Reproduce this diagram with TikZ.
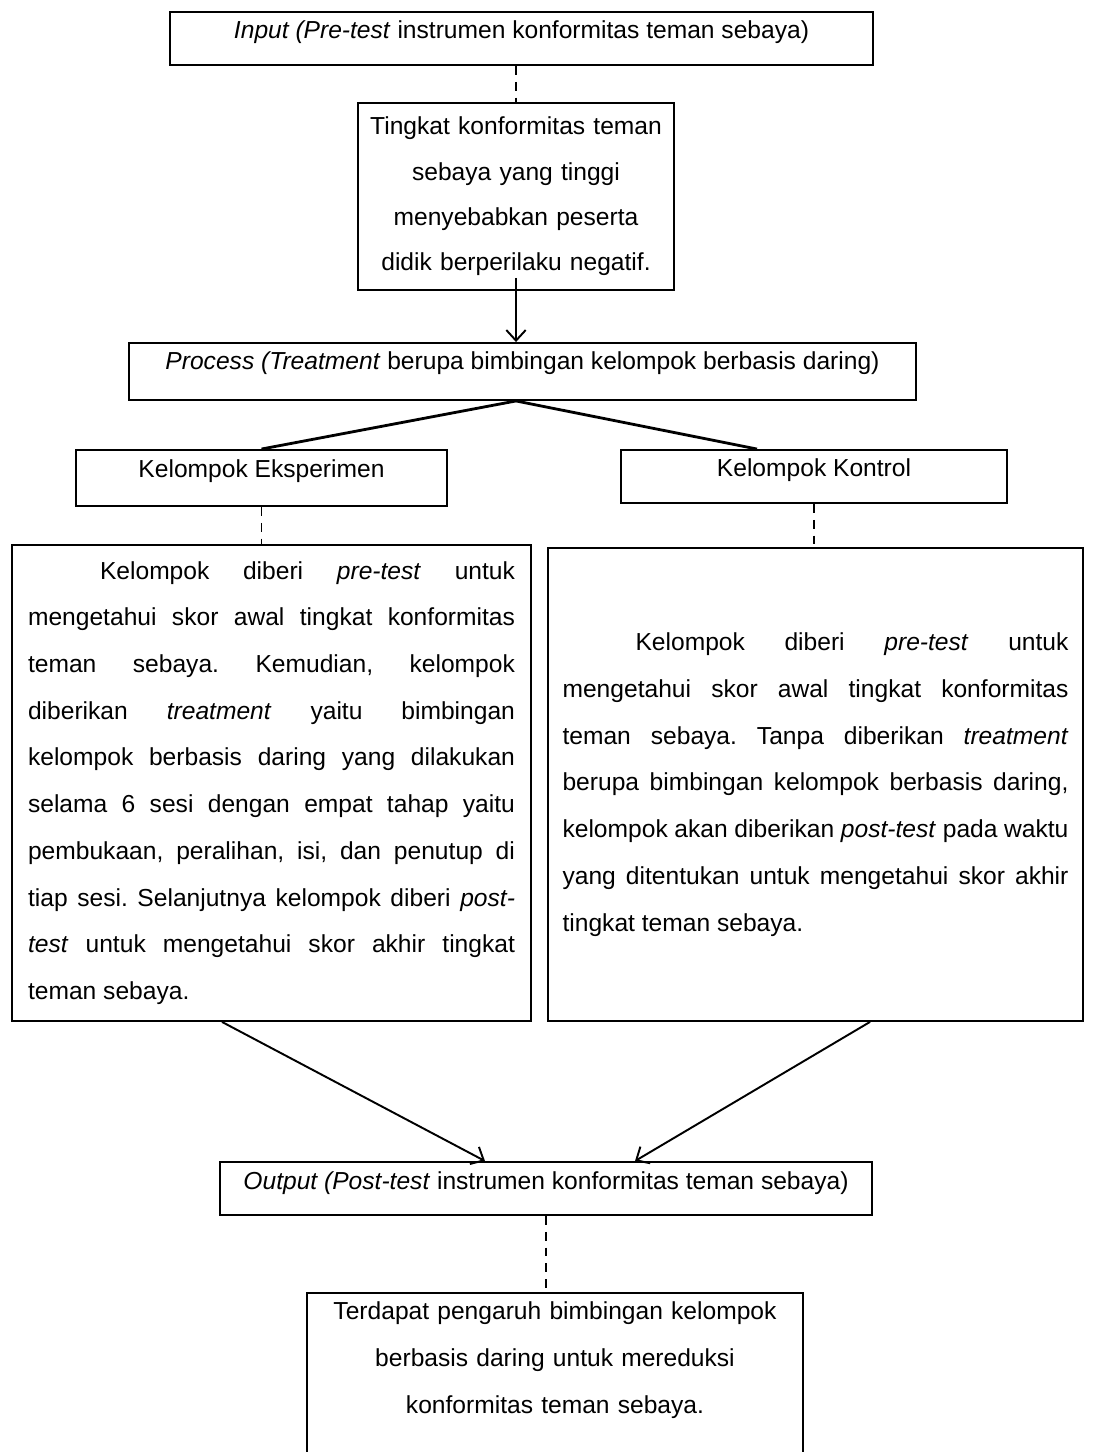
\documentclass[tikz,border=0pt]{standalone}
\usepackage{fontspec}
\setmainfont{Liberation Sans}
\frenchspacing
\usetikzlibrary{calc,arrows.meta}
\tikzset {>={Straight Barb[length=6pt,width=11pt]}}
\tikzset{
  kotak/.style={draw, line width=1.1pt, inner sep=0pt, font=\fontsize{14}{26.6}\selectfont},
  judul/.style={kotak, inner xsep=0.2cm, inner ysep=0.18cm, text height=0.36cm, text depth=0.34cm},
  isian/.style={kotak, align=center},
  putus/.style={line width=1pt, dash pattern=on 5pt off 4pt},
  panah/.style={->, line width=1.1pt},
  cabang/.style={line width=1.6pt}
}

\begin{document}
\begin{tikzpicture}[x=0.02cm,y=-0.02cm]
\useasboundingbox (0,0) rectangle (1092,1452);
%\draw[help lines,step=50] (0,0) grid (1092,1452);
\node[judul,minimum width=14.06cm] (input) at (521.5,38.5)
  {\textit{Input (Pre-test} instrumen konformitas teman sebaya)};
\node[isian,text width=5.9cm,minimum width=6.32cm,minimum height=3.74cm,
  inner xsep=0.21cm,font=\fontsize{14}{25.8}\selectfont] (tingkat) at (516,196.5)
  {Tingkat konformitas teman\\ sebaya yang tinggi\\ menyebabkan peserta\\ didik berperilaku negatif.};
\node[judul,minimum width=15.74cm,text depth=0.42cm] (process) at (522.5,371.5)
  {\textit{Process (Treatment} berupa bimbingan kelompok berbasis daring)};
\node[judul,minimum width=7.42cm,text depth=0.40cm] (eksperimen) at (261.5,478) {Kelompok Eksperimen};
\node[judul,minimum width=7.72cm] (kontrol) at (814,476.5) {Kelompok Kontrol};

\node[kotak,align=justify,text width=9.74cm,minimum width=10.38cm,minimum height=9.52cm,
  inner xsep=0.32cm] (kiri) at (271.5,783)
  {\hspace*{1.44cm}Kelompok diberi \textit{pre-test} untuk\linebreak
   mengetahui skor awal tingkat konformitas\linebreak
   teman sebaya. Kemudian, kelompok\linebreak
   diberikan \textit{treatment} yaitu bimbingan\linebreak
   kelompok berbasis daring yang dilakukan\linebreak
   selama 6 sesi dengan empat tahap yaitu\linebreak
   pembukaan, peralihan, isi, dan penutup di\linebreak
   tiap sesi. Selanjutnya kelompok diberi \textit{post-}\linebreak
   \textit{test} untuk mengetahui skor akhir tingkat\linebreak
   teman sebaya.};
\node[kotak,align=justify,text width=10.12cm,minimum width=10.7cm,minimum height=9.46cm,
  inner xsep=0.29cm] (kanan) at (815.5,784.5)
  {\hspace*{1.46cm}Kelompok diberi \textit{pre-test} untuk\linebreak
   mengetahui skor awal tingkat konformitas\linebreak
   teman sebaya. Tanpa diberikan \textit{treatment}\linebreak
   berupa bimbingan kelompok berbasis daring,\linebreak
   kelompok akan diberikan \textit{post-test} pada waktu\linebreak
   yang ditentukan untuk mengetahui skor akhir\linebreak
   tingkat teman sebaya.};

\node[judul,minimum width=13.04cm] (output) at (546,1188.5)
  {\textit{Output (Post-test} instrumen konformitas teman sebaya)};
\node[isian,anchor=north,text width=9.5cm,minimum width=9.92cm,inner xsep=0.21cm,
  inner ysep=0.18cm] (hasil) at (555,1292)
  {Terdapat pengaruh bimbingan kelompok\\ berbasis daring untuk mereduksi\\ konformitas teman sebaya.\\[2cm]\mbox{}};

\draw[putus] (input.south -| tingkat.north) -- (tingkat.north);
\draw[panah] ($(tingkat.south)+(0,-13)$) -- (tingkat.south |- process.north);
\draw[cabang] (tingkat.south |- process.south) -- (eksperimen.north);
\draw[cabang] (tingkat.south |- process.south) -- ($(kontrol.north)+(-57,0)$);
\foreach \a/\b in {eksperimen/kiri,kontrol/kanan}
  \draw[putus] (\a.south) -- (\a.south |- \b.north);
\draw[panah] ($(kiri.south)+(-49.5,0)$) -- ($(output.north)+(-61,0)$);
\draw[panah] ($(kanan.south)+(54.5,0)$) -- ($(output.north)+(89,0)$);
\draw[putus] (output.south) -- (output.south |- hasil.north);

\end{tikzpicture}
\end{document}
